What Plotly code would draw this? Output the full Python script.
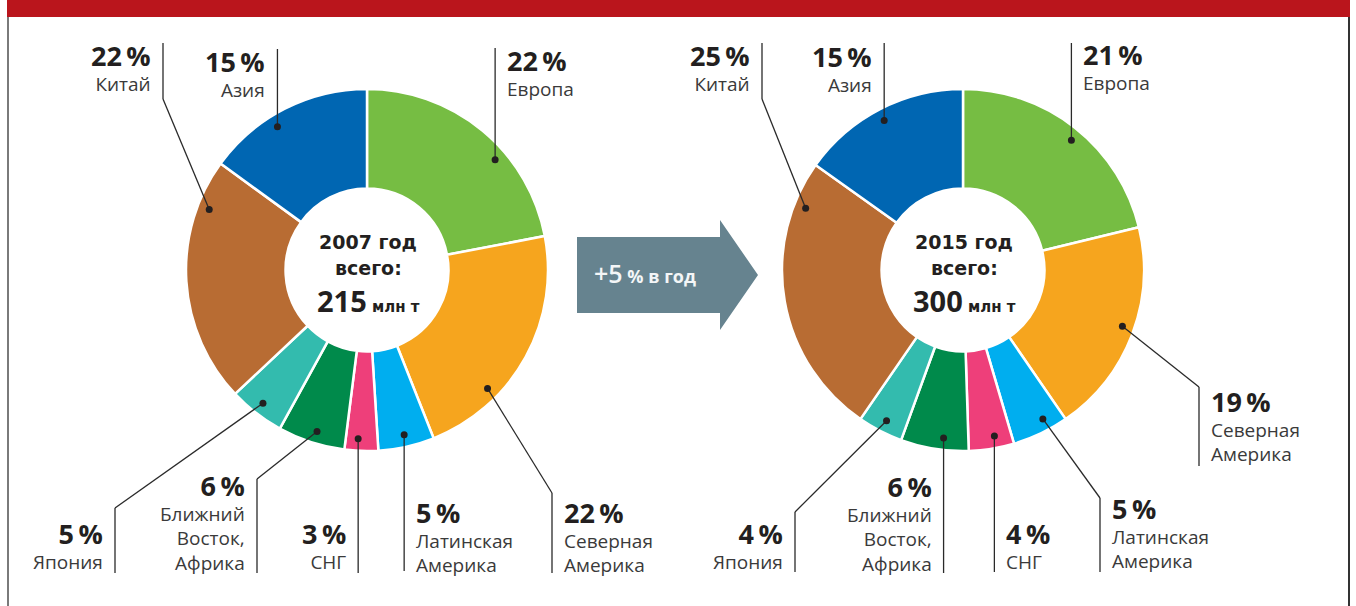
import math
import plotly.graph_objects as go

W, H = 1356, 606

regions = ["Европа", "Северная<br>Америка", "Латинская<br>Америка", "СНГ",
           "Ближний<br>Восток,<br>Африка", "Япония", "Китай", "Азия"]
colors = ["#76BD43", "#F6A51E", "#00AEEF", "#EE3F7A", "#008A4B", "#33BBAE", "#B86C33", "#0066B2"]
share_2007 = [22, 22, 5, 3, 6, 5, 22, 15]
share_2015 = [21, 19, 5, 4, 6, 4, 25, 15]
years = ["2007", "2015"]
totals = [215, 300]
growth = 5

# donut geometry in pixels (center x, center y), outer radius
centers = [(367, 270), (963, 270)]
R = 181
DOT_R = 169

# per region: dot angle (deg, clockwise from 12 o'clock), elbow point or None,
# end y of the leader, label side, baseline of the % line
leaders = [
    [(49.3, None, 48, "r", 72), (134.5, (552, 493), 573, "r", 524),
     (167.3, None, 571, "r", 524), (183, None, 573, "l", 545),
     (197.2, (257, 479), 573, "l", 498), (218, (115, 508), 573, "l", 545),
     (291, (163, 99), 43, "l", 67), (328, None, 49, "l", 73)],
    [(39.9, None, 43, "r", 66), (109.4, (1199, 387), 466, "r", 413),
     (151.8, (1100, 498), 572, "r", 520), (169.3, None, 572, "r", 545),
     (186.6, None, 573, "l", 499), (206.9, (795, 512), 572, "l", 545),
     (291.4, (762, 99), 43, "l", 67), (332.2, None, 43, "l", 68)],
]

INK = "#231F20"
TXT = "#3A3A3A"
PCT_SIZE = 27
NAME_SIZE = 19

fig = go.Figure()

shapes = []
annotations = []

for k, (vals, (cx, cy)) in enumerate(zip([share_2007, share_2015], centers)):
    fig.add_trace(go.Pie(
        values=vals, labels=[r.replace("<br>", " ") for r in regions],
        marker=dict(colors=colors, line=dict(color="white", width=2.5)),
        hole=0.45, sort=False, direction="clockwise", rotation=0,
        textinfo="none", hoverinfo="label+percent", showlegend=False,
        domain=dict(x=[(cx - R) / W, (cx + R) / W], y=[1 - (cy + R) / H, 1 - (cy - R) / H]),
    ))

    for name, v, (ang, elbow, y_end, side, base) in zip(regions, vals, leaders[k]):
        a = math.radians(ang)
        dx, dy = cx + DOT_R * math.sin(a), cy - DOT_R * math.cos(a)
        if elbow is None:
            lx = dx
            shapes.append(dict(type="line", x0=dx, y0=dy, x1=dx, y1=y_end))
        else:
            lx = elbow[0]
            shapes.append(dict(type="line", x0=dx, y0=dy, x1=elbow[0], y1=elbow[1]))
            shapes.append(dict(type="line", x0=elbow[0], y0=elbow[1], x1=elbow[0], y1=y_end))
        shapes.append(dict(type="circle", x0=dx - 3.5, y0=dy - 3.5, x1=dx + 3.5, y1=dy + 3.5,
                           fillcolor=INK, line=dict(width=0)))
        tx = lx + 10 if side == "r" else lx - 10
        anchor = "left" if side == "r" else "right"
        n_names = len(name.split("<br>"))
        last_base = base + 25 + 24 * (n_names - 1)
        annotations.append(dict(
            x=tx, y=last_base + 6.5, xref="x", yref="y", xanchor=anchor, yanchor="bottom",
            align=anchor,
            text=(f"<span style='font-size:{PCT_SIZE}px;color:{INK}'><b>{v}\u2009%</b></span>"
                  f"<br>{name}"),
            showarrow=False,
            font=dict(family="Open Sans", size=NAME_SIZE, color=TXT)))

    # center text
    annotations.append(dict(x=cx + 1, y=242, xref="x", yref="y", text=f"{years[k]} год",
                            showarrow=False, yanchor="middle",
                            font=dict(family="DejaVu Sans", size=19, color=INK, weight="bold")))
    annotations.append(dict(x=cx + 1, y=268, xref="x", yref="y", text="всего:",
                            showarrow=False, yanchor="middle",
                            font=dict(family="DejaVu Sans", size=19, color=INK, weight="bold")))
    annotations.append(dict(x=cx + 1, y=300, xref="x", yref="y",
                            text=f"<span style='font-family:Open Sans;font-size:29px'>{totals[k]}</span> млн т",
                            showarrow=False, yanchor="middle",
                            font=dict(family="DejaVu Sans", size=15, color=INK, weight="bold")))

# arrow
shapes.append(dict(type="path", path="M577,237 L720,237 L720,220 L758,275 L720,330 L720,313 L577,313 Z",
                   fillcolor="#66838F", line=dict(width=0)))
annotations.append(dict(x=592, y=273, xref="x", yref="y", xanchor="left", yanchor="middle",
                        text=f"<span style='font-size:25px;font-weight:600'>+{growth}</span> <b>% в год</b>",
                        showarrow=False,
                        font=dict(family="Open Sans", size=18, color="#F4F6F7")))

# frame
shapes.append(dict(type="rect", x0=7, x1=1350, y0=0, y1=17, fillcolor="#BA151C", line=dict(width=0)))
shapes.append(dict(type="line", x0=8, x1=8, y0=17, y1=H, line=dict(color="#7A7A7A", width=2)))
shapes.append(dict(type="line", x0=1349, x1=1349, y0=17, y1=H, line=dict(color="#333333", width=2)))

for s in shapes:
    s.setdefault("xref", "x")
    s.setdefault("yref", "y")
    if s["type"] == "line":
        s.setdefault("line", dict(color="#2A2A2A", width=1.3))

fig.update_layout(
    width=W, height=H, margin=dict(l=0, r=0, t=0, b=0),
    paper_bgcolor="white", plot_bgcolor="white",
    xaxis=dict(range=[0, W], visible=False, fixedrange=True),
    yaxis=dict(range=[H, 0], visible=False, fixedrange=True),
    shapes=shapes, annotations=annotations,
)

fig.write_html("out.html", config={"displayModeBar": False},
               post_script="document.body.style.margin='0';document.body.style.overflow='hidden';")
